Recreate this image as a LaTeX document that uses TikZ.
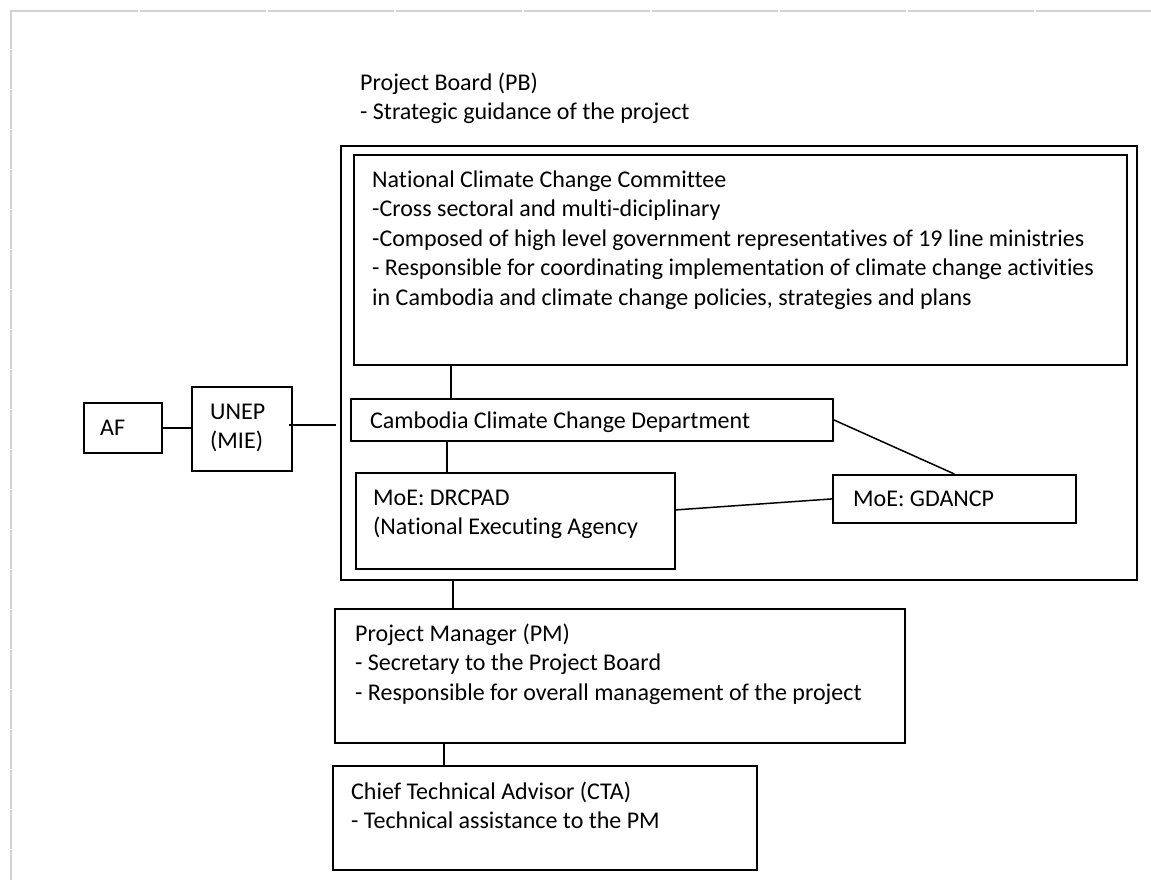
\documentclass[tikz,border=0pt]{standalone}
\usepackage{fontspec}
\setmainfont{Carlito}[Ligatures=NoCommon]
\definecolor{gridgray}{HTML}{D2D2D2}
\newcommand{\diagfont}{\fontsize{24}{29.5}\selectfont}
\begin{document}
\begin{tikzpicture}[x=1pt,y=-1pt,
  box/.style={draw=black, line width=1.8pt, inner sep=0pt, anchor=north west},
  link/.style={draw=black, line width=1.5pt},
  txt/.style={anchor=base west, inner sep=0pt, align=flush left, text width=760pt,
    font=\diagfont},
  gridline/.style={draw=gridgray, line width=2pt}]
\useasboundingbox (0,0) rectangle (1151,879);
% background sheet grid
\foreach \k in {0,...,8} \draw[gridline] ({11+128*\k+(\k>0)},11) -- ({138+128*\k},11);
\foreach \k in {0,...,21} \draw[gridline] (11,{10+40*\k}) -- (11,{49+40*\k});

% boxes
\node[box, minimum width=796pt, minimum height=434pt] (outer) at (340,145) {};
\node[box, minimum width=773pt, minimum height=210pt] (nccc) at (353,154) {};
\node[box, minimum width=482pt, minimum height=42pt] (cccd) at (350,398) {};
\node[box, minimum width=319pt, minimum height=96pt] (drcpad) at (355,472) {};
\node[box, minimum width=243pt, minimum height=48pt] (gdancp) at (832,474) {};
\node[box, minimum width=78pt, minimum height=50pt] (af) at (83,402) {};
\node[box, minimum width=100pt, minimum height=84pt] (unep) at (191,386) {};
\node[box, minimum width=570pt, minimum height=134pt] (pm) at (334,608) {};
\node[box, minimum width=424pt, minimum height=104pt] (cta) at (332,765) {};

% texts
\node[txt] (pbt) at (360,90) {Project Board (PB)\\- Strategic guidance of the project};
\node[txt] (nccct) at (372,187) {National Climate Change Committee\\
-Cross sectoral and multi-diciplinary\\
-Composed of high level government representatives of 19 line ministries\\
- Responsible for coordinating implementation of climate change activities\\
in Cambodia and climate change policies, strategies and plans};
\node[txt] (cccdt) at (370,428) {Cambodia Climate Change Department};
\node[txt] (drcpadt) at (373,505) {MoE: DRCPAD\\(National Executing Agency};
\node[txt] (gdancpt) at (853,506) {MoE: GDANCP};
\node[txt, text width=60pt] (aft) at (100,435) {AF};
\node[txt, text width=80pt] (unept) at (210,419) {UNEP\\(MIE)};
\node[txt] (pmt) at (355,641) {Project Manager (PM)\\- Secretary to the Project Board\\- Responsible for overall management of the project};
\node[txt] (ctat) at (351,799) {Chief Technical Advisor (CTA)\\- Technical assistance to the PM};

% connectors
\draw[link] (af.east) -- (af.east -| unep.west);
\draw[link] ([shift={(-4,-4)}]unep.east) -- ([shift={(-4,-4)}]unep.east -| outer.west);
\draw[link] ([xshift=98pt]nccc.south west) -- ([xshift=98pt]nccc.south west |- cccd.north);
\draw[link] ([xshift=97pt]cccd.south west) -- ([xshift=97pt]cccd.south west |- drcpad.north);
\draw[link] ([yshift=11pt]drcpad.east) -- (gdancp.west);
\draw[link] (cccd.east) -- (gdancp.north);
\draw[link] ([xshift=113pt]outer.south west) -- ([xshift=113pt]outer.south west |- pm.north);
\draw[link] ([xshift=110pt]pm.south west) -- ([xshift=110pt]pm.south west |- cta.north);
\end{tikzpicture}
\end{document}
